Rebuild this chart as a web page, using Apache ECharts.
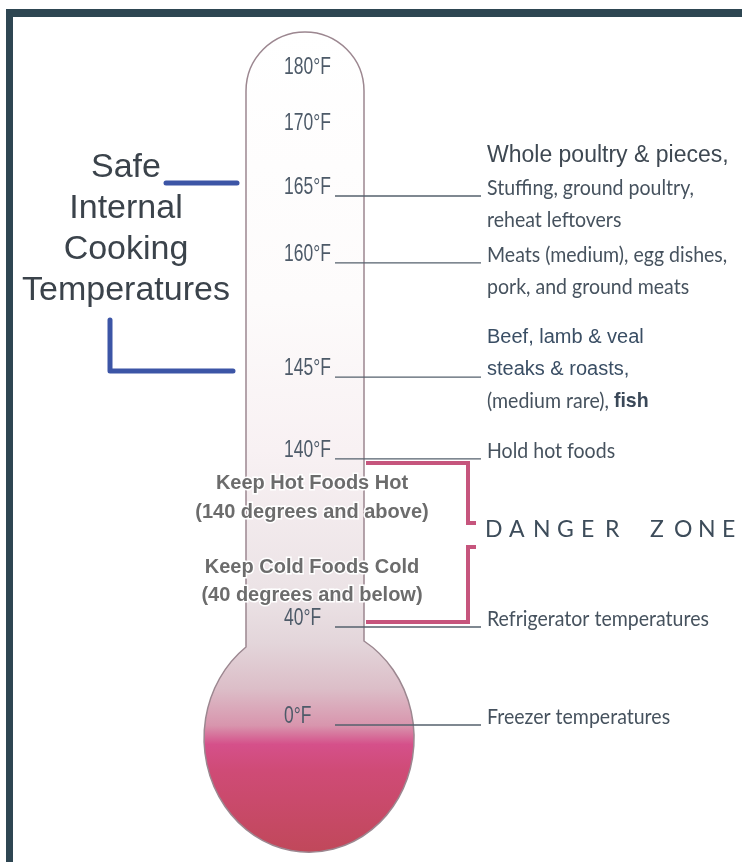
<!DOCTYPE html>
<html>
<head>
<meta charset="utf-8">
<script src="https://cdn.jsdelivr.net/npm/echarts@6/dist/echarts.min.js"></script>
<style>html,body{margin:0;padding:0;background:#fff;}</style>
</head>
<body>
<div id="main" style="width:742px;height:862px;"></div>
<script>
// thermometer marks, top to bottom
var temps = [180, 170, 165, 160, 145, 140, 40, 0];
var tempLabels = ['180°F', '170°F', '165°F', '160°F', '145°F', '140°F', '40°F', '0°F'];
// where each mark sits on the printed scale (0°F mark = 0, 180°F mark = 100)
var markHeight = [100, 91.4, 81.5, 71.2, 53.6, 41.0, 15.1, 0];
var notes = [
  [],
  [],
  ['Whole poultry & pieces,', 'Stuffing, ground poultry,', 'reheat leftovers'],
  ['Meats (medium), egg dishes,', 'pork, and ground meats'],
  ['Beef, lamb & veal', 'steaks & roasts,', '(medium rare), fish'],
  ['Hold hot foods'],
  ['Refrigerator temperatures'],
  ['Freezer temperatures']
];
// index of the note line that the leader line points at
var noteAnchor = [0, 0, 1, 0, 1, 0, 0, 0];
var titleLines = ['Safe', 'Internal', 'Cooking', 'Temperatures'];
var zoneWords = ['DANGER', 'ZONE'];
var hotLines = ['Keep Hot Foods Hot', '(140 degrees and above)'];
var coldLines = ['Keep Cold Foods Cold', '(40 degrees and below)'];

var humanist = "Lato, 'Open Sans', sans-serif";
var arial = "'Liberation Sans', Arial, sans-serif";
var slate = '#4d5a68';

var myChart = echarts.init(document.getElementById('main'));

function noteText(line, x, y) {
  var el = { type: 'text', x: x, y: y, scaleX: 0.93 };
  var st = { text: line, x: 0, y: 0, verticalAlign: 'middle', font: '21px ' + humanist, fill: '#46525e' };
  if (line === 'Whole poultry & pieces,') {
    st.font = '23px ' + arial; st.fill = '#3e4852'; el.scaleX = 1;
  } else if (line === 'Beef, lamb & veal' || line === 'steaks & roasts,') {
    st.font = '20px ' + arial; st.fill = '#3a4e64'; el.scaleX = 1;
  } else if (line === '(medium rare), fish') {
    st.text = '{a|(medium rare),} {b|fish}';
    st.rich = {
      a: { font: '21px ' + humanist, fill: '#46525e' },
      b: { font: 'bold 21px ' + arial, fill: '#3a4858' }
    };
  }
  el.style = st;
  return el;
}

function renderMark(params, api) {
  var i = params.dataIndex;
  var y = api.coord([api.value(0), api.value(1)])[1];
  var children = [{
    type: 'text',
    x: 284, y: y, scaleX: 0.76,
    style: { text: tempLabels[i], x: 0, y: 0, verticalAlign: 'middle', font: '23px ' + arial, fill: slate }
  }];
  if (notes[i].length) {
    children.push({
      type: 'line',
      shape: { x1: 335, y1: y + 8, x2: 481, y2: y + 8 },
      style: { stroke: '#54606c', lineWidth: 1.4 }
    });
    notes[i].forEach(function (line, k) {
      children.push(noteText(line, 487, y + (k - noteAnchor[i]) * 32));
    });
  }
  return { type: 'group', children: children };
}

var bodyFill = new echarts.graphic.LinearGradient(0, 0, 0, 1, [
  { offset: 0, color: '#ffffff' },
  { offset: 0.33, color: '#fdfbfb' },
  { offset: 0.51, color: '#f8f1f3' },
  { offset: 0.69, color: '#ebe2e5' },
  { offset: 0.745, color: '#e3d5da' },
  { offset: 0.8, color: '#dcbec8' },
  { offset: 0.845, color: '#d895ad' },
  { offset: 0.868, color: '#d5508a' },
  { offset: 0.9, color: '#cf4b76' },
  { offset: 1, color: '#c0485a' }
]);

var graphics = [
  // frame
  { type: 'rect', shape: { x: 6, y: 9, width: 740, height: 8, r: [3, 0, 0, 0] }, style: { fill: '#2e4652' } },
  { type: 'rect', shape: { x: 6, y: 9, width: 7, height: 860 }, style: { fill: '#2e4652' } },
  // blue brackets
  { type: 'line', shape: { x1: 166, y1: 183, x2: 237, y2: 183 }, style: { stroke: '#3c55a6', lineWidth: 5, lineCap: 'round' } },
  { type: 'polyline', shape: { points: [[110, 320], [110, 371], [233, 371]] }, style: { stroke: '#3c55a6', lineWidth: 5, lineCap: 'round', lineJoin: 'round', fill: null } },
  // danger zone bracket
  { type: 'polyline', shape: { points: [[366, 463], [468, 463], [468, 523], [476, 523]] }, style: { stroke: '#c6557d', lineWidth: 4, fill: null } },
  { type: 'polyline', shape: { points: [[476, 547], [468, 547], [468, 622], [366, 622]] }, style: { stroke: '#c6557d', lineWidth: 4, fill: null } }
];

titleLines.forEach(function (t, k) {
  graphics.push({ type: 'text', style: { text: t, x: 126, y: 168 + k * 41, align: 'center', verticalAlign: 'middle', font: '34px ' + arial, fill: '#3b434b' } });
});

var lx = 485;
zoneWords.forEach(function (w) {
  w.split('').forEach(function (ch) {
    graphics.push({ type: 'text', style: { text: ch, x: lx, y: 530, verticalAlign: 'middle', font: '23px ' + humanist, fill: '#3d4c5a' } });
    lx += 24;
  });
  lx += 21;
});

hotLines.concat(coldLines).forEach(function (t, k) {
  var y = [483, 512, 567, 595][k];
  graphics.push({ type: 'text', style: { text: t, x: 312, y: y, align: 'center', verticalAlign: 'middle', font: 'bold 20px ' + arial, fill: '#6c6c6c', stroke: '#ffffff', lineWidth: 3 } });
});

graphics.forEach(function (g) { if (g.z == null) g.z = 100; });

var option = {
  backgroundColor: '#ffffff',
  animation: false,
  grid: { left: 0, right: 0, top: 68, bottom: 145 },
  xAxis: { type: 'value', min: 0, max: 180, show: false },
  yAxis: { type: 'value', min: 0, max: 100, show: false },
  graphic: { elements: graphics },
  series: [
    {
      type: 'custom',
      coordinateSystem: 'none',
      silent: true,
      z: 1,
      data: [0],
      renderItem: function () {
        return {
          type: 'path',
          shape: { pathData: 'M246,91 A59,59 0 0 1 364,91 L364,641 A105,114 0 1 1 246,647 Z' },
          style: { fill: bodyFill, stroke: '#9c8790', lineWidth: 1.5 }
        };
      }
    },
    {
      type: 'custom',
      silent: true,
      z: 5,
      data: temps.map(function (t, i) { return [t, markHeight[i]]; }),
      renderItem: renderMark
    }
  ]
};
myChart.setOption(option);
</script>
</body>
</html>
